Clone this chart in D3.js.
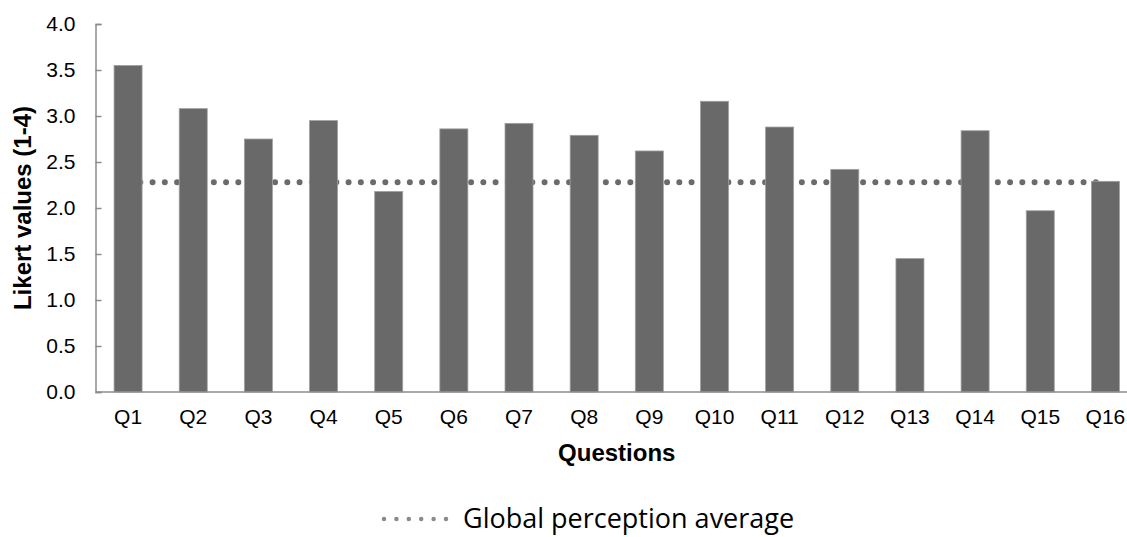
<!DOCTYPE html>
<html>
<head>
<meta charset="utf-8">
<script src="https://cdn.jsdelivr.net/npm/d3@7"></script>
<style>
  body { margin: 0; background: #fff; }
  svg { display: block; }
  text { font-family: "Liberation Sans", Arial, sans-serif; fill: #000; }
</style>
</head>
<body>
<svg width="1127" height="537"></svg>
<script>
const questions = ["Q1", "Q2", "Q3", "Q4", "Q5", "Q6", "Q7", "Q8",
                   "Q9", "Q10", "Q11", "Q12", "Q13", "Q14", "Q15", "Q16"];
const likert = [3.55, 3.08, 2.75, 2.95, 2.18, 2.86, 2.92, 2.79,
                2.62, 3.16, 2.88, 2.42, 1.45, 2.84, 1.97, 2.29];
const globalAverage = 2.28;
const yTicks = [0, 0.5, 1, 1.5, 2, 2.5, 3, 3.5, 4];

const svg = d3.select("svg");

const x = d3.scaleBand()
  .domain(questions)
  .range([95.5, 1138])
  .paddingInner(0.57)
  .paddingOuter(0.285);

const y = d3.scaleLinear()
  .domain([0, 4])
  .range([392, 24]);

// average line, behind bars
const avgLine = d3.line()
  .x(d => x(d) + x.bandwidth() / 2)
  .y(() => y(globalAverage));

svg.append("path")
  .datum(questions)
  .attr("d", avgLine)
  .attr("fill", "none")
  .attr("stroke", "#6b6b6b")
  .attr("stroke-width", 6)
  .attr("stroke-linecap", "round")
  .attr("stroke-dasharray", "0 12.25");

svg.append("g")
  .selectAll("rect")
  .data(likert)
  .enter().append("rect")
  .attr("x", (d, i) => x(questions[i]))
  .attr("y", d => y(d))
  .attr("width", x.bandwidth())
  .attr("height", d => y(0) - y(d))
  .attr("fill", "#696969")
  .attr("stroke", "#a0a0a0")
  .attr("stroke-width", 0.8);

// y axis
const yAxis = svg.append("g")
  .attr("transform", "translate(95.5,0)")
  .call(d3.axisLeft(y).tickValues(yTicks).tickFormat(d3.format(".1f"))
    .tickSizeInner(-6).tickSizeOuter(-6).tickPadding(20));

yAxis.select(".domain").attr("stroke", "#8c8c8c").attr("stroke-width", 1.5);
yAxis.selectAll(".tick line").attr("stroke", "#8c8c8c").attr("stroke-width", 1.5);
yAxis.selectAll(".tick text")
  .attr("font-family", "Liberation Sans, Arial, sans-serif")
  .attr("font-size", 21)
  .attr("fill", "#000");

// x axis
const xAxis = svg.append("g")
  .attr("transform", "translate(0,392)")
  .call(d3.axisBottom(x).tickSize(0).tickPadding(17));

xAxis.select(".domain")
  .attr("d", "M95.5,0H1127")
  .attr("stroke", "#8c8c8c").attr("stroke-width", 1.5);
xAxis.selectAll(".tick text")
  .attr("font-family", "Liberation Sans, Arial, sans-serif")
  .attr("font-size", 21)
  .attr("fill", "#000");

// axis titles
svg.append("text")
  .attr("transform", `translate(31,${(y(0) + y(4)) / 2}) rotate(-90)`)
  .attr("text-anchor", "middle")
  .attr("font-size", 24)
  .attr("font-weight", "bold")
  .text("Likert values (1-4)");

svg.append("text")
  .attr("x", (95.5 + 1138) / 2)
  .attr("y", 461)
  .attr("text-anchor", "middle")
  .attr("font-size", 24)
  .attr("font-weight", "bold")
  .text("Questions");

// legend
const legend = svg.append("g").attr("transform", "translate(382,519)");
legend.append("line")
  .attr("x1", 2).attr("x2", 64)
  .attr("stroke", "#8a8a8a")
  .attr("stroke-width", 4.5)
  .attr("stroke-linecap", "round")
  .attr("stroke-dasharray", "0 12.4");
legend.append("text")
  .attr("x", 81)
  .attr("y", 9)
  .style("font-family", "'Open Sans', sans-serif")
  .attr("font-size", 27)
  .text("Global perception average");
</script>
</body>
</html>
